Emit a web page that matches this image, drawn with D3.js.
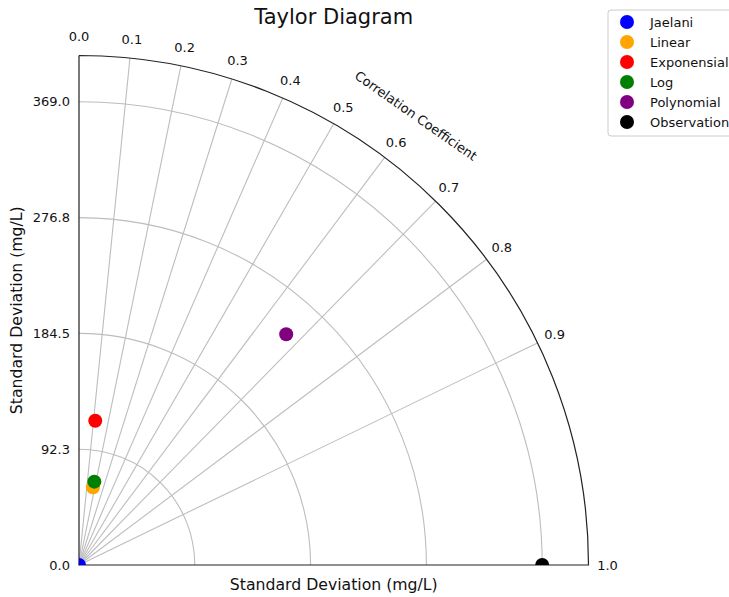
<!DOCTYPE html>
<html>
<head>
<meta charset="utf-8">
<script src="https://cdn.jsdelivr.net/npm/d3@7"></script>
<style>
  body { margin: 0; background: #fff; }
  svg { display: block; font-family: "DejaVu Sans", sans-serif; }
</style>
</head>
<body>
<script>
const models = ["Jaelani", "Linear", "Exponensial", "Log", "Polynomial", "Observation"];
const modelColors = ["blue", "orange", "red", "green", "purple", "black"];
const stdDevs = [0.0, 62.9, 115.7, 67.5, 247.1, 369.0];
const correlations = [0.5, 0.177, 0.112, 0.181, 0.668, 1.0];
const corrTicks = [0.0, 0.1, 0.2, 0.3, 0.4, 0.5, 0.6, 0.7, 0.8, 0.9, 1.0];
const gridCorr = [0.1, 0.2, 0.3, 0.4, 0.5, 0.6, 0.7, 0.8, 0.9];
const stdTicks = [0, 92.25, 184.5, 276.75, 369.0];
const stdMax = 405.9;

const width = 729;
const height = 597;
const originX = 79;
const originY = 565;
const radius = 509.5;

const svg = d3.select("body")
  .append("svg")
  .attr("width", width)
  .attr("height", height);

const r = d3.scaleLinear().domain([0, stdMax]).range([0, radius]);
const fmt = d3.format(".1f");

// polar -> screen, relative to origin
function pos(std, corr) {
  const theta = Math.acos(corr);
  return [r(std) * Math.cos(theta), -r(std) * Math.sin(theta)];
}

const plot = svg.append("g").attr("transform", `translate(${originX},${originY})`);

svg.append("defs")
  .append("clipPath")
  .attr("id", "quadrant")
  .append("path")
  .attr("d", `M0,0 L${radius},0 A${radius},${radius} 0 0 0 0,${-radius} Z`);

const arc = d3.arc();

// std dev grid arcs
plot.append("g")
  .selectAll("path")
  .data(stdTicks.filter(d => d > 0))
  .join("path")
  .attr("d", d => arc({ innerRadius: r(d), outerRadius: r(d), startAngle: 0, endAngle: Math.PI / 2 }))
  .attr("fill", "none")
  .attr("stroke", "#bdbdbd")
  .attr("stroke-width", 1.1);

// correlation grid lines
plot.append("g")
  .selectAll("line")
  .data(gridCorr)
  .join("line")
  .attr("x1", 0)
  .attr("y1", 0)
  .attr("x2", d => pos(stdMax, d)[0])
  .attr("y2", d => pos(stdMax, d)[1])
  .attr("stroke", "#bdbdbd")
  .attr("stroke-width", 1.1);

// frame
plot.append("path")
  .attr("d", `M0,${-radius} L0,0 L${radius},0 A${radius},${radius} 0 0 0 0,${-radius}`)
  .attr("fill", "none")
  .attr("stroke", "#222")
  .attr("stroke-width", 1.2);

// std tick labels
plot.append("g")
  .selectAll("text")
  .data(stdTicks)
  .join("text")
  .attr("x", -9)
  .attr("y", d => -r(d))
  .attr("dy", "0.35em")
  .attr("text-anchor", "end")
  .attr("font-size", 13)
  .attr("fill", "#111")
  .text(d => fmt(d));

// correlation tick labels
plot.append("g")
  .selectAll("text")
  .data(corrTicks)
  .join("text")
  .attr("x", d => pos(stdMax, d)[0] * (radius + 19) / radius)
  .attr("y", d => pos(stdMax, d)[1] * (radius + 19) / radius)
  .attr("dy", "0.35em")
  .attr("text-anchor", "middle")
  .attr("font-size", 13)
  .attr("fill", "#111")
  .text(d => fmt(d));

// correlation axis label
const labelPos = pos(stdMax, 0.6).map(v => v * (radius + 52) / radius);
plot.append("text")
  .attr("transform", `translate(${labelPos[0]},${labelPos[1]}) rotate(35)`)
  .attr("text-anchor", "middle")
  .attr("dy", "0.35em")
  .attr("font-size", 13)
  .attr("fill", "#111")
  .text("Correlation Coefficient");

// points
plot.append("g")
  .attr("clip-path", "url(#quadrant)")
  .selectAll("circle")
  .data(models)
  .join("circle")
  .attr("cx", (d, i) => pos(stdDevs[i], correlations[i])[0])
  .attr("cy", (d, i) => pos(stdDevs[i], correlations[i])[1])
  .attr("r", 7)
  .attr("fill", (d, i) => modelColors[i]);

// axis labels and title
svg.append("text")
  .attr("x", (originX + originX + radius) / 2)
  .attr("y", 590)
  .attr("text-anchor", "middle")
  .attr("font-size", 15.7)
  .attr("fill", "#111")
  .text("Standard Deviation (mg/L)");

svg.append("text")
  .attr("transform", `translate(22,${originY - radius / 2}) rotate(-90)`)
  .attr("text-anchor", "middle")
  .attr("font-size", 15.7)
  .attr("fill", "#111")
  .text("Standard Deviation (mg/L)");

svg.append("text")
  .attr("x", (originX + originX + radius) / 2)
  .attr("y", 24)
  .attr("text-anchor", "middle")
  .attr("font-size", 21)
  .attr("fill", "#111")
  .text("Taylor Diagram");

// legend
const legend = svg.append("g").attr("transform", "translate(608,10)");
legend.append("rect")
  .attr("width", 140)
  .attr("height", 126)
  .attr("rx", 3)
  .attr("fill", "#fff")
  .attr("stroke", "#ccc");

const item = legend.selectAll("g")
  .data(models)
  .join("g")
  .attr("transform", (d, i) => `translate(0,${12 + i * 20})`);

item.append("circle")
  .attr("cx", 19)
  .attr("r", 7)
  .attr("fill", (d, i) => modelColors[i]);

item.append("text")
  .attr("x", 42)
  .attr("dy", "0.35em")
  .attr("font-size", 13)
  .attr("fill", "#111")
  .text(d => d);
</script>
</body>
</html>
